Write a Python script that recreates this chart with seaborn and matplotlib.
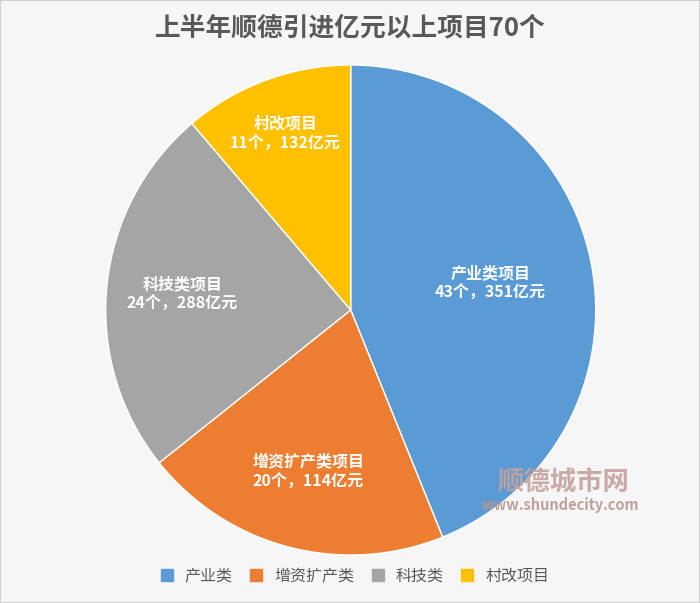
import numpy as np
import matplotlib
matplotlib.use("Agg")
import matplotlib.pyplot as plt
import seaborn as sns
from matplotlib.patches import Rectangle
from matplotlib.lines import Line2D

categories = ["产业类", "增资扩产类", "科技类", "村改项目"]
slice_names = ["产业类项目", "增资扩产类项目", "科技类项目", "村改项目"]
counts = [43, 20, 24, 11]
amounts = [351, 114, 288, 132]
colors = ["#5B9BD5", "#ED7D31", "#A5A5A5", "#FFC000"]
title = "上半年顺德引进亿元以上项目70个"

sns.set_theme(style="white")
plt.rcParams['font.family'] = ['Noto Sans CJK SC', 'DejaVu Sans']

fig = plt.figure(figsize=(7.0, 6.03), dpi=100)
fig.patch.set_facecolor("#f6f6f6")
fig.patches.append(Rectangle((0, 0), 1, 1, transform=fig.transFigure, fill=False,
                             edgecolor="#d0d0d0", linewidth=1.5))

ax = fig.add_axes([0.151, 0.0796, 0.70, 0.8126])
wedges, _ = ax.pie(counts, colors=colors, startangle=90, counterclock=False,
                   wedgeprops=dict(edgecolor="white", linewidth=1.0))
ax.set_xlim(-1, 1)
ax.set_ylim(-1, 1)
ax.set_aspect("equal")

rfac = [0.58, 0.68, 0.69, 0.77]
for w, name, c, a, rf in zip(wedges, slice_names, counts, amounts, rfac):
    ang = np.deg2rad((w.theta1 + w.theta2) / 2)
    x, y = rf * np.cos(ang), rf * np.sin(ang)
    ax.text(x, y, f"{name}\n{c}个，{a}亿元", ha="center", va="center",
            color="white", fontsize=11.5, fontweight="bold", linespacing=1.2)

fig.text(0.5, 0.953, title, ha="center", va="center", fontsize=18.5,
         fontweight="bold", color="#595959")

# watermark
fig.text(0.805, 0.198, "顺德城市网", ha="center", va="center", fontsize=19,
         fontweight="bold", color="#c4a29b", alpha=0.9)
fig.text(0.80, 0.163, "www.shundecity.com", ha="center", va="center", fontsize=10.5,
         fontweight="bold", color="#b89890", alpha=0.9)

handles = [Line2D([0], [0], marker="s", linestyle="", markersize=8,
                  markerfacecolor=col, markeredgecolor=col) for col in colors]
fig.legend(handles, categories, loc="center", bbox_to_anchor=(0.5, 0.045), ncol=4,
           frameon=False, fontsize=11.5, handletextpad=0.1, columnspacing=0.5,
           labelcolor="#595959")

fig.savefig("out.png", dpi=100, facecolor=fig.get_facecolor())
